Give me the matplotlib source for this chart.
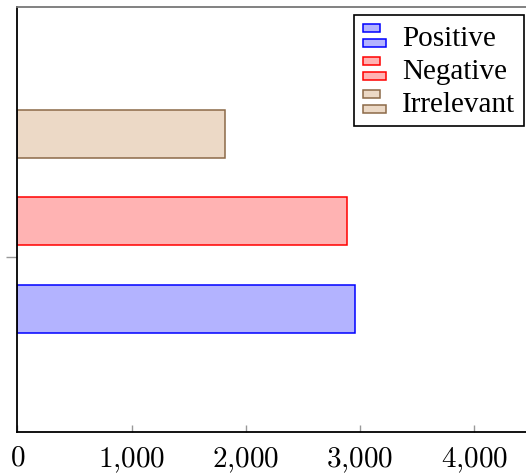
import matplotlib.pyplot as plt
from matplotlib.legend_handler import HandlerBase
from matplotlib.patches import Rectangle
from matplotlib.ticker import FuncFormatter

# -------- Data --------
series = ['Positive', 'Negative', 'Irrelevant']
counts = [2958, 2882, 1822]
face_colors = ['#b3b3ff', '#ffb3b3', '#ecd9c6']
edge_colors = ['blue', 'red', '#8c6a48']
x_ticks = [0, 1000, 2000, 3000, 4000]

# bar offsets around the single category (y = 0)
offsets = [-0.59, 0.41, 1.41]
bar_h = 0.546

plt.rcParams['mathtext.fontset'] = 'cm'
plt.rcParams['font.family'] = ['Liberation Serif', 'DejaVu Serif']


class BarPairHandler(HandlerBase):
    # pgfplots-style legend image: two small bars
    def create_artists(self, legend, orig_handle, xdescent, ydescent,
                       width, height, fontsize, trans):
        fc = orig_handle.get_facecolor()
        ec = orig_handle.get_edgecolor()
        top = Rectangle((-xdescent, -ydescent + height * 0.64), width * 0.72, height * 0.34,
                        facecolor=fc, edgecolor=ec, lw=1.1, transform=trans)
        bot = Rectangle((-xdescent, -ydescent), width, height * 0.34,
                        facecolor=fc, edgecolor=ec, lw=1.1, transform=trans)
        return [top, bot]


fig = plt.figure(figsize=(5.26, 4.77), dpi=100)
W, H = 526, 477
ax = fig.add_axes([17.3 / W, 44 / H, 1 - 17.3 / W, (433 - 7.5) / H])

handles = []
for name, val, off, fc, ec in zip(series, counts, offsets, face_colors, edge_colors):
    b = ax.barh(off, val, height=bar_h, color=fc, edgecolor=ec, linewidth=1.1, label=name)
    handles.append(b[0])

ax.set_xlim(0, 4453)
ax.set_ylim(-2.0, 2.866)

ax.set_xticks(x_ticks)
ax.xaxis.set_major_formatter(FuncFormatter(
    lambda v, p: r'$%s$' % ('{:,}'.format(int(v)).replace(',', '{,}'))))
ax.tick_params(axis='x', direction='in', length=5, width=1, color='#999999',
               labelsize=21, pad=9)
ax.set_yticks([0])
ax.set_yticklabels([''])
ax.tick_params(axis='y', direction='out', length=8, width=1, color='#999999')

ax.spines['right'].set_visible(False)
ax.spines['top'].set_color('#777777')
for s in ['left', 'bottom', 'top']:
    ax.spines[s].set_linewidth(1.3)

leg = ax.legend(handles=handles, labels=series,
                handler_map={h: BarPairHandler() for h in handles},
                loc='upper right', bbox_to_anchor=(524 / W, 1 - 15.7 / H),
                bbox_transform=fig.transFigure, fontsize=21,
                fancybox=False, framealpha=1, edgecolor='black',
                handlelength=0.8, handleheight=0.85, handletextpad=0.55,
                borderpad=0.3, labelspacing=0.18, borderaxespad=0)
leg.get_frame().set_linewidth(1.2)

plt.savefig('out.png', dpi=100)
